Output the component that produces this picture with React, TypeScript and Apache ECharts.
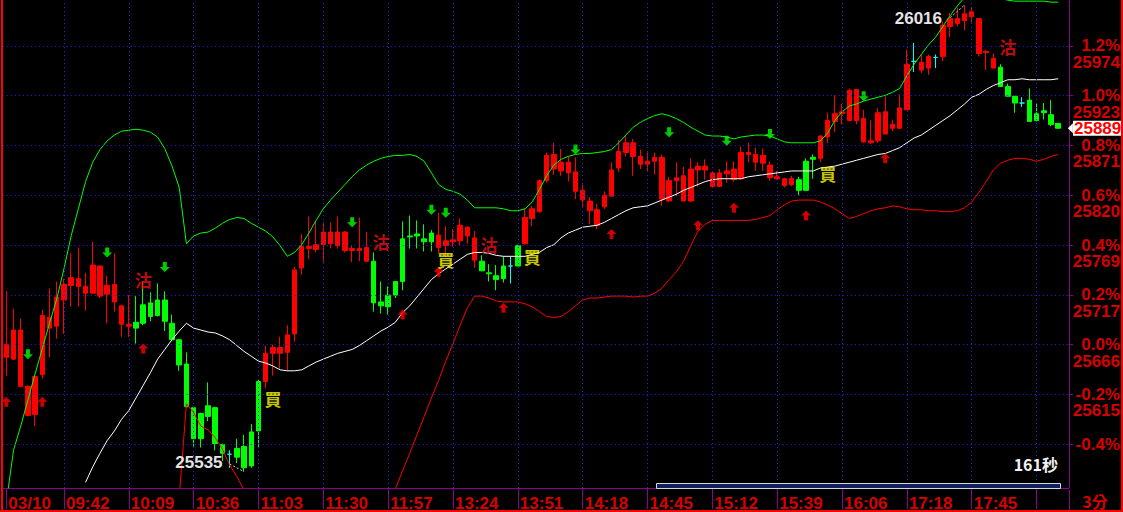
import React, { useEffect, useRef } from "react";
import * as echarts from "echarts";

// ---------- data ----------
const basePrice = 25666;
const yMin = 25518.2;
const yMax = 26021.2;
const pctTicks = [-0.4, -0.2, 0, 0.2, 0.4, 0.6, 0.8, 1.0, 1.2];
const pctLabels = ["-0.4%", "-0.2%", "0.0%", "0.2%", "0.4%", "0.6%", "0.8%", "1.0%", "1.2%"];
const priceLabels = ["", "25615", "25666", "25717", "25769", "25820", "25871", "25923", "25974"];

const slotCount = 148;
const tickIndex = [0, 8, 17, 26, 35, 44, 53, 62, 71, 80, 89, 98, 107, 116, 125, 134, 143];
const tickLabels = ["03/10", "09:42", "10:09", "10:36", "11:03", "11:30", "11:57", "13:24", "13:51", "14:18", "14:45", "15:12", "15:39", "16:06", "17:18", "17:45", ""];

// [open, close, low, high]
const ohlc = [
  [25653, 25666, 25634, 25721], [25651, 25681, 25650, 25703], [25623, 25681, 25622, 25693], [25593, 25623, 25592, 25624],
  [25594, 25633, 25582, 25634], [25635, 25696, 25631, 25702], [25683, 25694, 25653, 25724], [25685, 25715, 25672, 25731],
  [25712, 25728, 25677, 25734], [25727, 25735, 25705, 25760], [25726, 25734, 25705, 25766], [25719, 25726, 25701, 25740],
  [25719, 25748, 25719, 25772], [25716, 25747, 25714, 25748], [25718, 25727, 25688, 25737], [25710, 25728, 25700, 25760],
  [25687, 25706, 25674, 25707], [25685, 25687, 25674, 25717], [25689, 25683, 25667, 25716], [25707, 25688, 25686, 25731],
  [25709, 25695, 25690, 25720], [25712, 25696, 25695, 25729], [25712, 25690, 25680, 25721], [25688, 25671, 25670, 25697],
  [25671, 25645, 25639, 25672], [25646, 25602, 25601, 25658], [25601, 25569, 25561, 25602], [25595, 25569, 25560, 25596],
  [25603, 25592, 25587, 25627], [25601, 25564, 25557, 25602], [25563, 25554, 25546, 25564], [25553, 25553, 25539, 25557],
  [25559, 25550, 25544, 25569], [25561, 25539, 25535, 25573], [25576, 25541, 25539, 25584], [25628, 25577, 25560, 25630],
  [25628, 25657, 25621, 25665], [25657, 25663, 25634, 25666], [25657, 25663, 25641, 25674], [25658, 25676, 25639, 25686],
  [25677, 25743, 25669, 25746], [25745, 25767, 25738, 25780], [25765, 25767, 25754, 25798], [25764, 25769, 25761, 25793],
  [25769, 25782, 25751, 25792], [25770, 25782, 25765, 25792], [25768, 25782, 25765, 25798], [25763, 25782, 25761, 25783],
  [25763, 25765, 25751, 25768], [25763, 25765, 25752, 25797], [25752, 25766, 25751, 25782], [25752, 25709, 25700, 25761],
  [25710, 25706, 25698, 25731], [25717, 25705, 25697, 25726], [25731, 25717, 25714, 25731], [25775, 25731, 25722, 25793],
  [25778, 25777, 25765, 25799], [25780, 25778, 25765, 25794], [25775, 25772, 25762, 25790], [25781, 25772, 25762, 25784],
  [25766, 25779, 25760, 25802], [25768, 25773, 25756, 25788], [25772, 25774, 25767, 25785], [25773, 25789, 25768, 25796],
  [25778, 25787, 25770, 25788], [25753, 25776, 25745, 25783], [25752, 25742, 25742, 25758], [25740, 25739, 25731, 25749],
  [25737, 25733, 25722, 25748], [25747, 25734, 25730, 25757], [25747, 25747, 25729, 25757], [25768, 25747, 25747, 25769],
  [25770, 25797, 25769, 25806], [25796, 25806, 25788, 25809], [25803, 25835, 25802, 25836], [25835, 25861, 25833, 25864],
  [25847, 25862, 25841, 25874], [25845, 25854, 25840, 25868], [25843, 25854, 25834, 25860], [25824, 25844, 25816, 25859],
  [25815, 25825, 25808, 25831], [25804, 25814, 25790, 25818], [25789, 25805, 25785, 25811], [25808, 25820, 25806, 25824],
  [25819, 25846, 25819, 25854], [25848, 25865, 25844, 25877], [25864, 25874, 25860, 25881], [25860, 25874, 25840, 25878],
  [25852, 25860, 25847, 25867], [25852, 25855, 25845, 25864], [25855, 25859, 25841, 25864], [25816, 25859, 25809, 25862],
  [25814, 25835, 25813, 25839], [25835, 25838, 25819, 25854], [25814, 25840, 25814, 25849], [25814, 25847, 25813, 25858],
  [25846, 25850, 25829, 25854], [25846, 25850, 25836, 25857], [25829, 25843, 25828, 25844], [25829, 25843, 25829, 25847],
  [25842, 25845, 25833, 25855], [25836, 25847, 25834, 25855], [25837, 25864, 25836, 25870], [25862, 25864, 25854, 25874],
  [25854, 25862, 25845, 25869], [25853, 25861, 25845, 25868], [25838, 25851, 25835, 25855], [25837, 25839, 25836, 25845],
  [25830, 25837, 25828, 25838], [25831, 25837, 25829, 25840], [25836, 25825, 25820, 25839], [25855, 25825, 25825, 25858],
  [25859, 25857, 25837, 25862], [25858, 25881, 25854, 25882], [25880, 25897, 25874, 25905], [25896, 25904, 25885, 25923],
  [25904, 25906, 25893, 25914], [25897, 25928, 25896, 25930], [25897, 25929, 25893, 25929], [25875, 25899, 25874, 25908],
  [25874, 25876, 25873, 25897], [25876, 25905, 25874, 25910], [25883, 25906, 25883, 25922], [25889, 25893, 25886, 25898],
  [25889, 25910, 25888, 25924], [25908, 25955, 25908, 25970], [25958, 25958, 25947, 25977], [25949, 25957, 25946, 25965],
  [25951, 25963, 25944, 25965], [25962, 25962, 25951, 25965], [25963, 25995, 25958, 25999], [25994, 26002, 25983, 26008],
  [25997, 26002, 25994, 26013], [26000, 26007, 25990, 26016], [26004, 26009, 25998, 26013], [25966, 26002, 25963, 26002],
  [25967, 25968, 25949, 25970], [25951, 25961, 25951, 25966], [25952, 25932, 25932, 25955], [25932, 25922, 25922, 25935],
  [25922, 25915, 25905, 25922], [25915, 25915, 25911, 25921], [25918, 25896, 25896, 25930], [25904, 25897, 25896, 25915],
  [25907, 25905, 25898, 25915], [25903, 25893, 25891, 25918], [25894, 25889, 25889, 25894],
];

const upperBand = [
  25503, 25557, 25582, 25609, 25636, 25662, 25688, 25713, 25744, 25778, 25806, 25834, 25854, 25867, 25876, 25882,
  25886, 25887, 25888, 25887, 25885, 25880, 25868, 25850, 25828, 25770, 25778, 25781, 25782, 25786, 25791, 25795,
  25797, 25796, 25791, 25787, 25783, 25777, 25768, 25757, 25761, 25769, 25781, 25794, 25806, 25815, 25823, 25831,
  25839, 25846, 25851, 25855, 25858, 25860, 25861, 25861, 25862, 25860, 25855, 25843, 25831, 25826, 25824, 25821,
  25815, 25807, 25807, 25807, 25807, 25806, 25804, 25804, 25806, 25813, 25826, 25840, 25851, 25857, 25860, 25862,
  25863, 25863, 25864, 25865, 25867, 25874, 25882, 25890, 25895, 25899, 25902, 25904, 25902, 25899, 25895, 25890,
  25886, 25882, 25881, 25881, 25880, 25878, 25880, 25881, 25882, 25882, 25881, 25878, 25875, 25874, 25874, 25874,
  25874, 25876, 25884, 25897, 25906, 25912, 25914, 25917, 25919, 25921, 25923, 25926, 25930, 25943, 25955, 25965,
  25975, 25983, 25994, 26005, 26015, 26024, 26029, 26031, 26030, 26027, 26023, 26021, 26020, 26020, 26020, 26020,
  26020, 26019, 26019,
];

const middleBand = [
  null, null, null, null, null, null, null, null, null, null, null, 25524, 25540, 25554, 25567, 25577,
  25589, 25598, 25611, 25624, 25637, 25651, 25661, 25671, 25680, 25688, 25683, 25681, 25679, 25678, 25675, 25671,
  25665, 25659, 25654, 25649, 25647, 25644, 25640, 25639, 25639, 25640, 25644, 25648, 25651, 25654, 25657, 25659,
  25661, 25665, 25670, 25675, 25680, 25684, 25689, 25699, 25706, 25715, 25724, 25733, 25739, 25744, 25749, 25754,
  25759, 25761, 25761, 25760, 25758, 25757, 25757, 25757, 25757, 25759, 25761, 25766, 25769, 25776, 25781, 25784,
  25787, 25788, 25789, 25792, 25796, 25800, 25804, 25807, 25808, 25809, 25812, 25815, 25818, 25821, 25825, 25828,
  25831, 25834, 25836, 25837, 25837, 25837, 25837, 25839, 25840, 25841, 25842, 25843, 25844, 25845, 25845, 25845,
  25845, 25848, 25849, 25850, 25852, 25854, 25856, 25858, 25860, 25862, 25863, 25866, 25869, 25874, 25879, 25882,
  25887, 25892, 25897, 25902, 25908, 25914, 25921, 25924, 25929, 25933, 25936, 25939, 25939, 25940, 25939, 25939,
  25939, 25939, 25940,
];

const lowerBand = [
  null, null, null, null, null, null, null, null, null, null, null, null, null, null, null, null,
  null, null, null, null, null, null, null, null, 25508, 25605, 25596, 25582, 25578, 25570, 25558, 25542,
  25530, 25516, 25498, null, null, null, null, null, null, null, null, null, null, null, null, null,
  null, null, null, null, null, 25498, 25517, 25536, 25554, 25573, 25592, 25611, 25629, 25649, 25667, 25686,
  25704, 25716, 25716, 25714, 25711, 25710, 25710, 25710, 25708, 25705, 25700, 25695, 25694, 25695, 25700, 25706,
  25712, 25714, 25714, 25715, 25716, 25716, 25716, 25715, 25716, 25716, 25719, 25724, 25733, 25741, 25752, 25768,
  25783, 25790, 25794, 25794, 25794, 25794, 25794, 25794, 25795, 25797, 25799, 25805, 25810, 25814, 25815, 25815,
  25815, 25813, 25810, 25806, 25801, 25796, 25798, 25801, 25804, 25806, 25807, 25809, 25808, 25806, 25805, 25805,
  25804, 25804, 25803, 25803, 25804, 25807, 25813, 25823, 25834, 25846, 25853, 25856, 25858, 25858, 25857, 25855,
  25857, 25860, 25862,
];

// signals: [bar index, price]
const upArrows = [[0, 25607], [5, 25607], [19, 25662], [55, 25697], [60, 25741], [69, 25704], [84, 25780], [96, 25789], [101, 25807], [111, 25799], [122, 25858]];
const downArrows = [[3, 25656], [14, 25761], [22, 25746], [48, 25792], [59, 25805], [61, 25802], [79, 25867], [92, 25885], [100, 25876], [106, 25883], [119, 25922]];
const buySignals = [[37, 25610], [61, 25754], [73, 25757], [114, 25842]];
const sellSignals = [[19, 25733], [52, 25772], [67, 25769], [139, 25973]];

const lastPrice = 25889;
const highMark = { index: 133, price: 26016, from: [131, 26003] };
const lowMark = { index: 33, price: 25535, from: [31, 25543] };
const countdownText = "161秒";
const periodText = "3分";

// ---------- style ----------
const RED_TXT = "#d60000";
const PURPLE = "#8c008c";
const DOT_BLUE = "#2626e6";
const FONT = "'Liberation Sans', Arial, sans-serif";
const CJK = "'Noto Sans CJK TC', 'Noto Sans CJK SC', sans-serif";

const UP_ARROW = "path://M5,0 L10,5 L7,5 L7,10 L3,10 L3,5 L0,5 Z";
const DOWN_ARROW = "path://M3,0 L7,0 L7,5 L10,5 L5,10 L0,5 L3,5 Z";

export default function App() {
  const ref = useRef<HTMLDivElement>(null);

  useEffect(() => {
    if (!ref.current) return;
    const chart = echarts.init(ref.current, undefined, { renderer: "svg" });

    const gridPrices = pctTicks.map((p) => basePrice * (1 + p / 100));
    const categories = Array.from({ length: slotCount }, (_, i) => String(i));
    const labelFor = (i: number) => {
      const k = tickIndex.indexOf(i);
      return k >= 0 ? tickLabels[k] : "";
    };

    const candleData = ohlc.map((d) =>
      d[0] === d[1]
        ? { value: d, itemStyle: { color: "#00ffff", color0: "#00ffff", borderColor: "#00ffff", borderColor0: "#00ffff" } }
        : d
    );

    const labelRich = {
      fontFamily: FONT,
      fontSize: 17,
      fontWeight: "bold" as const,
      color: RED_TXT,
      align: "right" as const,
      width: 50,
    };

    const option: any = {
      animation: false,
      backgroundColor: "#000000",
      grid: { left: 2.7, right: 53.2, top: 0, height: 490, containLabel: false },
      xAxis: {
        type: "category",
        data: categories,
        boundaryGap: true,
        axisLine: { show: true, lineStyle: { color: PURPLE, width: 1 } },
        axisTick: {
          show: true,
          alignWithLabel: true,
          length: 21,
          interval: (i: number) => tickIndex.includes(i),
          lineStyle: { color: PURPLE, width: 1 },
        },
        axisLabel: {
          interval: (i: number) => tickIndex.includes(i) && labelFor(i) !== "",
          formatter: (_v: string, i: number) => labelFor(i),
          color: RED_TXT,
          fontFamily: FONT,
          fontSize: 17,
          fontWeight: "bold",
          align: "left",
          margin: 7,
          padding: [0, 0, 0, 2],
        },
        splitLine: { show: false },
      },
      yAxis: {
        type: "value",
        position: "right",
        min: yMin,
        max: yMax,
        axisLine: { show: true, lineStyle: { color: PURPLE, width: 1 } },
        axisTick: { show: true, length: 4, inside: false, customValues: gridPrices, lineStyle: { color: PURPLE } },
        axisLabel: {
          customValues: gridPrices,
          showMinLabel: true,
          showMaxLabel: true,
          hideOverlap: false,
          margin: 1,
          formatter: (v: number) => {
            const k = gridPrices.findIndex((g) => Math.abs(g - v) < 0.5);
            if (k < 0) return "";
            return `{e| }\n{p|${pctLabels[k]}}\n{v|${priceLabels[k] || " "}}`;
          },
          rich: {
            e: { ...labelRich, lineHeight: 15 },
            p: { ...labelRich, lineHeight: 18 },
            v: { ...labelRich, lineHeight: 15 },
          },
        },
        splitLine: { show: false },
      },
      series: [
        {
          name: "grid",
          type: "line",
          data: [],
          silent: true,
          z: 1,
          markLine: {
            silent: true,
            symbol: ["none", "none"],
            label: { show: false },
            lineStyle: { color: DOT_BLUE, type: [1, 3], width: 1 },
            data: [
              ...gridPrices.map((v) => ({ yAxis: v })),
              ...tickIndex.slice(1).map((i) => ({ xAxis: i })),
            ],
          },
        },
        {
          name: "K",
          type: "candlestick",
          data: candleData,
          barWidth: 5,
          z: 2,
          itemStyle: {
            color: "#ff0000",
            color0: "#00ff00",
            borderColor: "#ff0000",
            borderColor0: "#00ff00",
            borderWidth: 1,
          },
          markPoint: {
            silent: true,
            symbol: "circle",
            symbolSize: 1,
            itemStyle: { color: "transparent" },
            data: [
              {
                coord: [highMark.index, highMark.price],
                label: {
                  show: true,
                  position: "left",
                  distance: 22,
                  offset: [0, 13],
                  formatter: String(highMark.price),
                  color: "#e4e4e4",
                  fontFamily: FONT,
                  fontSize: 17,
                  fontWeight: "bold",
                },
              },
              {
                coord: [lowMark.index, lowMark.price],
                label: {
                  show: true,
                  position: "left",
                  distance: 21,
                  offset: [0, -9],
                  formatter: String(lowMark.price),
                  color: "#e4e4e4",
                  fontFamily: FONT,
                  fontSize: 17,
                  fontWeight: "bold",
                },
              },
              {
                coord: [slotCount - 1, lastPrice],
                symbol: "triangle",
                symbolSize: [10, 5],
                symbolRotate: 90,
                symbolOffset: [5, 0],
                itemStyle: { color: "#ffffff" },
                label: { show: false },
              },
            ],
          },
          markLine: {
            silent: true,
            symbol: ["none", "none"],
            data: [
              {
                yAxis: lastPrice,
                lineStyle: { color: "rgba(0,0,0,0)", width: 0 },
                label: {
                  show: true,
                  position: "end",
                  distance: 4,
                  formatter: String(lastPrice),
                  color: "#ff0000",
                  backgroundColor: "#ffffff",
                  fontFamily: FONT,
                  fontSize: 17,
                  fontWeight: "bold",
                  lineHeight: 15,
                  padding: [0, 0, 0, 1],
                  opacity: 1,
                },
              },
              [
                { coord: highMark.from, lineStyle: { color: "#d0d0d0", type: [2, 2], width: 1 }, label: { show: false } },
                { coord: [highMark.index, highMark.price] },
              ],
              [
                { coord: lowMark.from, lineStyle: { color: "#d0d0d0", type: [2, 2], width: 1 }, label: { show: false } },
                { coord: [lowMark.index, lowMark.price] },
              ],
            ],
          },
        },
        {
          name: "UP",
          type: "line",
          data: upperBand,
          symbol: "none",
          z: 3,
          lineStyle: { color: "#00ff00", width: 1 },
        },
        {
          name: "MID",
          type: "line",
          data: middleBand,
          symbol: "none",
          z: 3,
          lineStyle: { color: "#ffffff", width: 1 },
        },
        {
          name: "DN",
          type: "line",
          data: lowerBand,
          symbol: "none",
          z: 3,
          lineStyle: { color: "#ff0000", width: 1 },
        },
        {
          name: "upArrow",
          type: "scatter",
          data: upArrows,
          symbol: UP_ARROW,
          symbolSize: [10, 10],
          z: 4,
          itemStyle: { color: "#ff0000" },
        },
        {
          name: "downArrow",
          type: "scatter",
          data: downArrows,
          symbol: DOWN_ARROW,
          symbolSize: [10, 10],
          z: 4,
          itemStyle: { color: "#00ff00" },
        },
        {
          name: "buy",
          type: "scatter",
          data: buySignals,
          symbol: "circle",
          symbolSize: 1,
          z: 5,
          itemStyle: { color: "transparent" },
          label: {
            show: true,
            position: "inside",
            formatter: "買",
            color: "#ffff00",
            fontFamily: CJK,
            fontSize: 17,
            fontWeight: "bold",
          },
        },
        {
          name: "sell",
          type: "scatter",
          data: sellSignals,
          symbol: "circle",
          symbolSize: 1,
          z: 5,
          itemStyle: { color: "transparent" },
          label: {
            show: true,
            position: "inside",
            formatter: "沽",
            color: "#ee1010",
            fontFamily: CJK,
            fontSize: 17,
            fontWeight: "bold",
          },
        },
      ],
      graphic: [
        { type: "rect", z: 100, shape: { x: 1, y: 0, width: 2, height: 512 }, style: { fill: "#ff0000" } },
        { type: "rect", z: 100, shape: { x: 1121, y: 0, width: 2, height: 512 }, style: { fill: "#ff0000" } },
        { type: "rect", z: 100, shape: { x: 0, y: 510, width: 1123, height: 2 }, style: { fill: "#ff0000" } },
        { type: "rect", z: 100, shape: { x: 1069, y: 490, width: 1, height: 20 }, style: { fill: PURPLE } },
        {
          type: "rect",
          z: 100,
          shape: { x: 656.5, y: 483.5, width: 404, height: 5 },
          style: { fill: "#0e2060", stroke: "#d8d8d8", lineWidth: 1 },
        },
        {
          type: "text",
          z: 100,
          x: 1095,
          y: 501,
          style: {
            text: periodText,
            fill: RED_TXT,
            font: `bold 16px ${CJK}`,
            align: "center",
            verticalAlign: "middle",
          },
        },
        {
          type: "text",
          z: 100,
          x: 1058,
          y: 464,
          style: {
            text: countdownText,
            fill: "#f2f2f2",
            font: `bold 16px ${CJK}`,
            align: "right",
            verticalAlign: "middle",
          },
        },
      ],
    };

    chart.setOption(option);
    return () => chart.dispose();
  }, []);

  return (
    <div
      ref={ref}
      style={{ position: "absolute", left: 0, top: 0, width: 1123, height: 512, background: "#000" }}
    />
  );
}
